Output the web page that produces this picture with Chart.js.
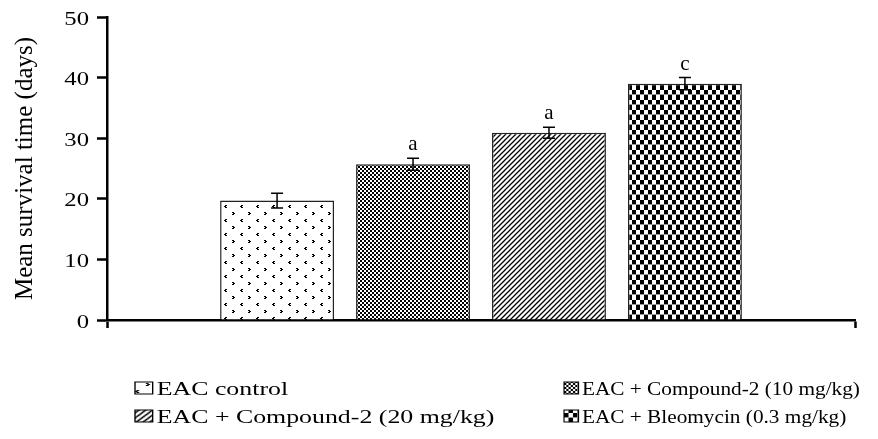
<!DOCTYPE html>
<html>
<head>
<meta charset="utf-8">
<script src="https://cdn.jsdelivr.net/npm/chart.js@4"></script>
<style>
  html, body { margin: 0; padding: 0; background: #fff; }
  #wrap { width: 878px; height: 439px; }
</style>
</head>
<body>
<div id="wrap"><canvas id="chartSurvival"></canvas></div>
<script>
const groups = ['EAC control', 'EAC + Compound-2 (10 mg/kg)', 'EAC + Compound-2 (20 mg/kg)', 'EAC + Bleomycin (0.3 mg/kg)'];
const meanDays = [19.7, 25.7, 30.9, 39.0];
const errDays = [1.2, 1.0, 0.9, 1.0];
const sigLetters = ['', 'a', 'a', 'c'];
const yTicks = [0, 10, 20, 30, 40, 50];

// black & white hatch fills like the original figure
function makePattern(w, h, draw) {
  const c = document.createElement('canvas');
  c.width = w;
  c.height = h;
  const g = c.getContext('2d');
  g.fillStyle = '#fff';
  g.fillRect(0, 0, w, h);
  g.fillStyle = '#000';
  g.strokeStyle = '#000';
  draw(g);
  return g.createPattern(c, 'repeat');
}

const fills = [
  makePattern(16, 14, g => {
    g.fillRect(8, 2, 2, 1); g.fillRect(9, 3, 2, 1); g.fillRect(8, 4, 2, 1);
    g.fillRect(1, 9, 2, 1); g.fillRect(0, 10, 2, 1); g.fillRect(1, 11, 2, 1);
  }),
  makePattern(4, 4, g => {
    g.fillRect(0, 0, 2, 2); g.fillRect(2, 2, 2, 2);
  }),
  makePattern(5, 5, g => {
    g.lineWidth = 1.3;
    g.beginPath();
    g.moveTo(-1, 6); g.lineTo(6, -1);
    g.moveTo(-3.5, 3.5); g.lineTo(3.5, -3.5);
    g.moveTo(1.5, 8.5); g.lineTo(8.5, 1.5);
    g.stroke();
  }),
  makePattern(8, 10, g => {
    g.fillRect(0, 0, 4, 5); g.fillRect(4, 5, 4, 5);
    g.fillStyle = '#999';
    g.fillRect(0, 4, 8, 1);
  })
];

const legendCols = [135, 564];
const legendRows = [395, 423];
const legendStretch = [1.36, 1.12];

const decor = {
  id: 'decor',
  afterDatasetsDraw(chart) {
    const { ctx } = chart;
    const y = chart.scales.y;
    ctx.save();
    ctx.strokeStyle = '#000';
    ctx.fillStyle = '#000';
    ctx.lineWidth = 1.5;
    ctx.font = '21px "Liberation Serif"';
    ctx.textAlign = 'center';
    ctx.textBaseline = 'alphabetic';
    meanDays.forEach((m, i) => {
      const bar = chart.getDatasetMeta(i).data[0];
      const top = y.getPixelForValue(m + errDays[i]);
      const bot = y.getPixelForValue(m - errDays[i]);
      ctx.beginPath();
      ctx.moveTo(bar.x, top); ctx.lineTo(bar.x, bot);
      ctx.moveTo(bar.x - 6, top); ctx.lineTo(bar.x + 6, top);
      ctx.moveTo(bar.x - 6, bot); ctx.lineTo(bar.x + 6, bot);
      ctx.stroke();
      if (sigLetters[i]) ctx.fillText(sigLetters[i], bar.x, top - 8);
    });
    ctx.restore();
  },
  afterDraw(chart) {
    const { ctx, chartArea } = chart;
    const y = chart.scales.y;
    ctx.save();
    ctx.fillStyle = '#000';
    ctx.font = '19px "Liberation Serif"';
    ctx.textBaseline = 'alphabetic';

    // y tick labels (the source figure is stretched sideways)
    ctx.textAlign = 'right';
    y.ticks.forEach(t => {
      ctx.save();
      ctx.translate(chartArea.left - 18, y.getPixelForValue(t.value) + 7.5);
      ctx.scale(1.3, 1);
      ctx.fillText(String(t.value), 0, 0);
      ctx.restore();
    });

    // legend, two columns
    ctx.textAlign = 'left';
    groups.forEach((g, i) => {
      const col = i % 2;
      const row = Math.floor(i / 2);
      ctx.save();
      ctx.translate(legendCols[col], legendRows[row]);
      ctx.scale(legendStretch[col], 1);
      ctx.fillStyle = fills[i];
      ctx.fillRect(0, -13, 13, 12);
      ctx.strokeStyle = '#000';
      ctx.lineWidth = 1;
      ctx.strokeRect(0, -13, 13, 12);
      ctx.fillStyle = '#000';
      ctx.fillText(g, 16, 0);
      ctx.restore();
    });
    ctx.restore();
  }
};

new Chart(document.getElementById('chartSurvival'), {
  type: 'bar',
  data: {
    labels: [''],
    datasets: groups.map((g, i) => ({
      label: g,
      data: [meanDays[i]],
      backgroundColor: fills[i],
      borderColor: '#222',
      borderWidth: 1.5,
      categoryPercentage: 0.727,
      barPercentage: 0.838
    }))
  },
  options: {
    responsive: true,
    maintainAspectRatio: false,
    animation: false,
    layout: { padding: { left: 0, right: 23, top: 17, bottom: 111 } },
    plugins: {
      legend: { display: false },
      tooltip: { enabled: false }
    },
    scales: {
      x: {
        grid: { drawOnChartArea: false, tickLength: 8, tickWidth: 2.5, tickColor: '#000', offset: true },
        border: { color: '#000', width: 2.5 },
        ticks: { display: false },
        afterFit: s => { s.height = 8; }
      },
      y: {
        min: 0,
        max: 50,
        afterBuildTicks: s => { s.ticks = yTicks.map(v => ({ value: v })); },
        grid: { drawOnChartArea: false, tickLength: 10, tickWidth: 2.5, tickColor: '#000' },
        border: { color: '#000', width: 2.5 },
        ticks: { display: false },
        title: {
          display: true,
          text: 'Mean survival time (days)',
          color: '#000',
          font: { family: 'Liberation Serif', size: 25 },
          padding: { top: 10, bottom: 0 }
        },
        afterFit: s => { s.width = 107; }
      }
    }
  },
  plugins: [decor]
});
</script>
</body>
</html>
